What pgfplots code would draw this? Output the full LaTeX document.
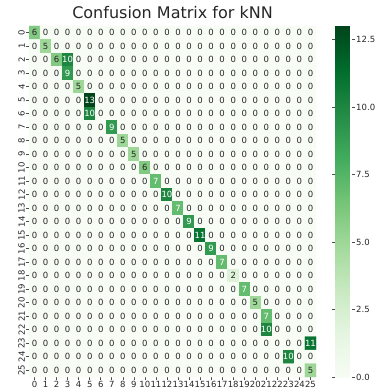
\documentclass[border=0pt]{standalone}
\usepackage{fontspec}
\setmainfont{DejaVu Sans}
\usepackage{pgfplots}
\pgfplotsset{compat=1.18}
\usepackage{pgfplotstable}
\definecolor{txtd}{HTML}{262626}
\pgfplotstableread[row sep=\\]{
x y v\\
0 0 6\\1 0 0\\2 0 0\\3 0 0\\4 0 0\\5 0 0\\6 0 0\\7 0 0\\8 0 0\\9 0 0\\10 0 0\\11 0 0\\12 0 0\\13 0 0\\14 0 0\\15 0 0\\16 0 0\\17 0 0\\18 0 0\\19 0 0\\20 0 0\\21 0 0\\22 0 0\\23 0 0\\24 0 0\\25 0 0\\
0 1 0\\1 1 5\\2 1 0\\3 1 0\\4 1 0\\5 1 0\\6 1 0\\7 1 0\\8 1 0\\9 1 0\\10 1 0\\11 1 0\\12 1 0\\13 1 0\\14 1 0\\15 1 0\\16 1 0\\17 1 0\\18 1 0\\19 1 0\\20 1 0\\21 1 0\\22 1 0\\23 1 0\\24 1 0\\25 1 0\\
0 2 0\\1 2 0\\2 2 6\\3 2 10\\4 2 0\\5 2 0\\6 2 0\\7 2 0\\8 2 0\\9 2 0\\10 2 0\\11 2 0\\12 2 0\\13 2 0\\14 2 0\\15 2 0\\16 2 0\\17 2 0\\18 2 0\\19 2 0\\20 2 0\\21 2 0\\22 2 0\\23 2 0\\24 2 0\\25 2 0\\
0 3 0\\1 3 0\\2 3 0\\3 3 9\\4 3 0\\5 3 0\\6 3 0\\7 3 0\\8 3 0\\9 3 0\\10 3 0\\11 3 0\\12 3 0\\13 3 0\\14 3 0\\15 3 0\\16 3 0\\17 3 0\\18 3 0\\19 3 0\\20 3 0\\21 3 0\\22 3 0\\23 3 0\\24 3 0\\25 3 0\\
0 4 0\\1 4 0\\2 4 0\\3 4 0\\4 4 5\\5 4 0\\6 4 0\\7 4 0\\8 4 0\\9 4 0\\10 4 0\\11 4 0\\12 4 0\\13 4 0\\14 4 0\\15 4 0\\16 4 0\\17 4 0\\18 4 0\\19 4 0\\20 4 0\\21 4 0\\22 4 0\\23 4 0\\24 4 0\\25 4 0\\
0 5 0\\1 5 0\\2 5 0\\3 5 0\\4 5 0\\5 5 13\\6 5 0\\7 5 0\\8 5 0\\9 5 0\\10 5 0\\11 5 0\\12 5 0\\13 5 0\\14 5 0\\15 5 0\\16 5 0\\17 5 0\\18 5 0\\19 5 0\\20 5 0\\21 5 0\\22 5 0\\23 5 0\\24 5 0\\25 5 0\\
0 6 0\\1 6 0\\2 6 0\\3 6 0\\4 6 0\\5 6 10\\6 6 0\\7 6 0\\8 6 0\\9 6 0\\10 6 0\\11 6 0\\12 6 0\\13 6 0\\14 6 0\\15 6 0\\16 6 0\\17 6 0\\18 6 0\\19 6 0\\20 6 0\\21 6 0\\22 6 0\\23 6 0\\24 6 0\\25 6 0\\
0 7 0\\1 7 0\\2 7 0\\3 7 0\\4 7 0\\5 7 0\\6 7 0\\7 7 9\\8 7 0\\9 7 0\\10 7 0\\11 7 0\\12 7 0\\13 7 0\\14 7 0\\15 7 0\\16 7 0\\17 7 0\\18 7 0\\19 7 0\\20 7 0\\21 7 0\\22 7 0\\23 7 0\\24 7 0\\25 7 0\\
0 8 0\\1 8 0\\2 8 0\\3 8 0\\4 8 0\\5 8 0\\6 8 0\\7 8 0\\8 8 5\\9 8 0\\10 8 0\\11 8 0\\12 8 0\\13 8 0\\14 8 0\\15 8 0\\16 8 0\\17 8 0\\18 8 0\\19 8 0\\20 8 0\\21 8 0\\22 8 0\\23 8 0\\24 8 0\\25 8 0\\
0 9 0\\1 9 0\\2 9 0\\3 9 0\\4 9 0\\5 9 0\\6 9 0\\7 9 0\\8 9 0\\9 9 5\\10 9 0\\11 9 0\\12 9 0\\13 9 0\\14 9 0\\15 9 0\\16 9 0\\17 9 0\\18 9 0\\19 9 0\\20 9 0\\21 9 0\\22 9 0\\23 9 0\\24 9 0\\25 9 0\\
0 10 0\\1 10 0\\2 10 0\\3 10 0\\4 10 0\\5 10 0\\6 10 0\\7 10 0\\8 10 0\\9 10 0\\10 10 6\\11 10 0\\12 10 0\\13 10 0\\14 10 0\\15 10 0\\16 10 0\\17 10 0\\18 10 0\\19 10 0\\20 10 0\\21 10 0\\22 10 0\\23 10 0\\24 10 0\\25 10 0\\
0 11 0\\1 11 0\\2 11 0\\3 11 0\\4 11 0\\5 11 0\\6 11 0\\7 11 0\\8 11 0\\9 11 0\\10 11 0\\11 11 7\\12 11 0\\13 11 0\\14 11 0\\15 11 0\\16 11 0\\17 11 0\\18 11 0\\19 11 0\\20 11 0\\21 11 0\\22 11 0\\23 11 0\\24 11 0\\25 11 0\\
0 12 0\\1 12 0\\2 12 0\\3 12 0\\4 12 0\\5 12 0\\6 12 0\\7 12 0\\8 12 0\\9 12 0\\10 12 0\\11 12 0\\12 12 10\\13 12 0\\14 12 0\\15 12 0\\16 12 0\\17 12 0\\18 12 0\\19 12 0\\20 12 0\\21 12 0\\22 12 0\\23 12 0\\24 12 0\\25 12 0\\
0 13 0\\1 13 0\\2 13 0\\3 13 0\\4 13 0\\5 13 0\\6 13 0\\7 13 0\\8 13 0\\9 13 0\\10 13 0\\11 13 0\\12 13 0\\13 13 7\\14 13 0\\15 13 0\\16 13 0\\17 13 0\\18 13 0\\19 13 0\\20 13 0\\21 13 0\\22 13 0\\23 13 0\\24 13 0\\25 13 0\\
0 14 0\\1 14 0\\2 14 0\\3 14 0\\4 14 0\\5 14 0\\6 14 0\\7 14 0\\8 14 0\\9 14 0\\10 14 0\\11 14 0\\12 14 0\\13 14 0\\14 14 9\\15 14 0\\16 14 0\\17 14 0\\18 14 0\\19 14 0\\20 14 0\\21 14 0\\22 14 0\\23 14 0\\24 14 0\\25 14 0\\
0 15 0\\1 15 0\\2 15 0\\3 15 0\\4 15 0\\5 15 0\\6 15 0\\7 15 0\\8 15 0\\9 15 0\\10 15 0\\11 15 0\\12 15 0\\13 15 0\\14 15 0\\15 15 11\\16 15 0\\17 15 0\\18 15 0\\19 15 0\\20 15 0\\21 15 0\\22 15 0\\23 15 0\\24 15 0\\25 15 0\\
0 16 0\\1 16 0\\2 16 0\\3 16 0\\4 16 0\\5 16 0\\6 16 0\\7 16 0\\8 16 0\\9 16 0\\10 16 0\\11 16 0\\12 16 0\\13 16 0\\14 16 0\\15 16 0\\16 16 9\\17 16 0\\18 16 0\\19 16 0\\20 16 0\\21 16 0\\22 16 0\\23 16 0\\24 16 0\\25 16 0\\
0 17 0\\1 17 0\\2 17 0\\3 17 0\\4 17 0\\5 17 0\\6 17 0\\7 17 0\\8 17 0\\9 17 0\\10 17 0\\11 17 0\\12 17 0\\13 17 0\\14 17 0\\15 17 0\\16 17 0\\17 17 7\\18 17 0\\19 17 0\\20 17 0\\21 17 0\\22 17 0\\23 17 0\\24 17 0\\25 17 0\\
0 18 0\\1 18 0\\2 18 0\\3 18 0\\4 18 0\\5 18 0\\6 18 0\\7 18 0\\8 18 0\\9 18 0\\10 18 0\\11 18 0\\12 18 0\\13 18 0\\14 18 0\\15 18 0\\16 18 0\\17 18 0\\18 18 2\\19 18 0\\20 18 0\\21 18 0\\22 18 0\\23 18 0\\24 18 0\\25 18 0\\
0 19 0\\1 19 0\\2 19 0\\3 19 0\\4 19 0\\5 19 0\\6 19 0\\7 19 0\\8 19 0\\9 19 0\\10 19 0\\11 19 0\\12 19 0\\13 19 0\\14 19 0\\15 19 0\\16 19 0\\17 19 0\\18 19 0\\19 19 7\\20 19 0\\21 19 0\\22 19 0\\23 19 0\\24 19 0\\25 19 0\\
0 20 0\\1 20 0\\2 20 0\\3 20 0\\4 20 0\\5 20 0\\6 20 0\\7 20 0\\8 20 0\\9 20 0\\10 20 0\\11 20 0\\12 20 0\\13 20 0\\14 20 0\\15 20 0\\16 20 0\\17 20 0\\18 20 0\\19 20 0\\20 20 5\\21 20 0\\22 20 0\\23 20 0\\24 20 0\\25 20 0\\
0 21 0\\1 21 0\\2 21 0\\3 21 0\\4 21 0\\5 21 0\\6 21 0\\7 21 0\\8 21 0\\9 21 0\\10 21 0\\11 21 0\\12 21 0\\13 21 0\\14 21 0\\15 21 0\\16 21 0\\17 21 0\\18 21 0\\19 21 0\\20 21 0\\21 21 7\\22 21 0\\23 21 0\\24 21 0\\25 21 0\\
0 22 0\\1 22 0\\2 22 0\\3 22 0\\4 22 0\\5 22 0\\6 22 0\\7 22 0\\8 22 0\\9 22 0\\10 22 0\\11 22 0\\12 22 0\\13 22 0\\14 22 0\\15 22 0\\16 22 0\\17 22 0\\18 22 0\\19 22 0\\20 22 0\\21 22 10\\22 22 0\\23 22 0\\24 22 0\\25 22 0\\
0 23 0\\1 23 0\\2 23 0\\3 23 0\\4 23 0\\5 23 0\\6 23 0\\7 23 0\\8 23 0\\9 23 0\\10 23 0\\11 23 0\\12 23 0\\13 23 0\\14 23 0\\15 23 0\\16 23 0\\17 23 0\\18 23 0\\19 23 0\\20 23 0\\21 23 0\\22 23 0\\23 23 0\\24 23 0\\25 23 11\\
0 24 0\\1 24 0\\2 24 0\\3 24 0\\4 24 0\\5 24 0\\6 24 0\\7 24 0\\8 24 0\\9 24 0\\10 24 0\\11 24 0\\12 24 0\\13 24 0\\14 24 0\\15 24 0\\16 24 0\\17 24 0\\18 24 0\\19 24 0\\20 24 0\\21 24 0\\22 24 0\\23 24 10\\24 24 0\\25 24 0\\
0 25 0\\1 25 0\\2 25 0\\3 25 0\\4 25 0\\5 25 0\\6 25 0\\7 25 0\\8 25 0\\9 25 0\\10 25 0\\11 25 0\\12 25 0\\13 25 0\\14 25 0\\15 25 0\\16 25 0\\17 25 0\\18 25 0\\19 25 0\\20 25 0\\21 25 0\\22 25 0\\23 25 0\\24 25 0\\25 25 5\\
}\cm

\begin{document}
\begin{tikzpicture}
\begin{axis}[
  name=main, at={(0,0)}, anchor=south west,
  scale only axis, width=287pt, height=351pt,
  xmin=-0.5, xmax=25.5, ymin=-0.5, ymax=25.5,
  enlargelimits=false,
  y dir=reverse,
  axis line style={draw=none},
  xtick={0,...,25}, ytick={0,...,25},
  xtick pos=left, ytick pos=left, tick align=outside,
  major tick length=3pt,
  tick style={black!70, line width=0.6pt},
  /pgf/number format/assume math mode=true,
  ticklabel style={font=\fontsize{8.5}{10}\selectfont, inner sep=1pt, text=txtd},
  yticklabel style={rotate=90, anchor=south},
  xticklabel style={anchor=north},
  title={Confusion Matrix for kNN},
  title style={at={(0.5,1)}, anchor=base, yshift=1.5pt, font=\fontsize{16}{19}\selectfont, text=txtd},
  colormap={greens}{rgb255=(247,252,245) rgb255=(229,245,224) rgb255=(199,233,192) rgb255=(161,217,155) rgb255=(116,196,118) rgb255=(65,171,93) rgb255=(35,139,69) rgb255=(0,109,44) rgb255=(0,68,27)},
  point meta min=0, point meta max=13,
  colorbar,
  colorbar style={
    at={(parent axis.north east)}, anchor=north west, xshift=10.5pt,
    scale only axis, width=17pt, height=351pt,
    axis line style={draw=none},
    ytick={0,2.5,5,7.5,10,12.5},
    yticklabel={\pgfmathprintnumber[fixed,fixed zerofill,precision=1]{\tick}},
    yticklabel style={rotate=0, anchor=west, inner sep=1pt, font=\fontsize{8.5}{10}\selectfont, text=txtd},
    tick align=outside, major tick length=3pt,
    tick style={black!70, line width=0.6pt},
    /pgf/number format/assume math mode=true,
  },
]
\addplot[matrix plot*, mesh/cols=26, point meta=explicit] table[x=x, y=y, meta=v] \cm;
\addplot[only marks, mark=none, point meta=\thisrow{v},
  restrict expr to domain={\thisrow{v}}{-1:6.5},
  nodes near coords,
  nodes near coords style={anchor=center, font=\fontsize{8.5}{10}\selectfont, text=txtd, inner sep=0pt}]
  table[x=x, y=y] \cm;
\addplot[only marks, mark=none, point meta=\thisrow{v},
  restrict expr to domain={\thisrow{v}}{6.5:100},
  nodes near coords,
  nodes near coords style={anchor=center, font=\fontsize{8.5}{10}\selectfont, text=white, inner sep=0pt}]
  table[x=x, y=y] \cm;
\end{axis}
\pgfresetboundingbox
\path[use as bounding box] (-29pt,-13pt) rectangle (348pt,377pt);
\end{tikzpicture}
\end{document}
